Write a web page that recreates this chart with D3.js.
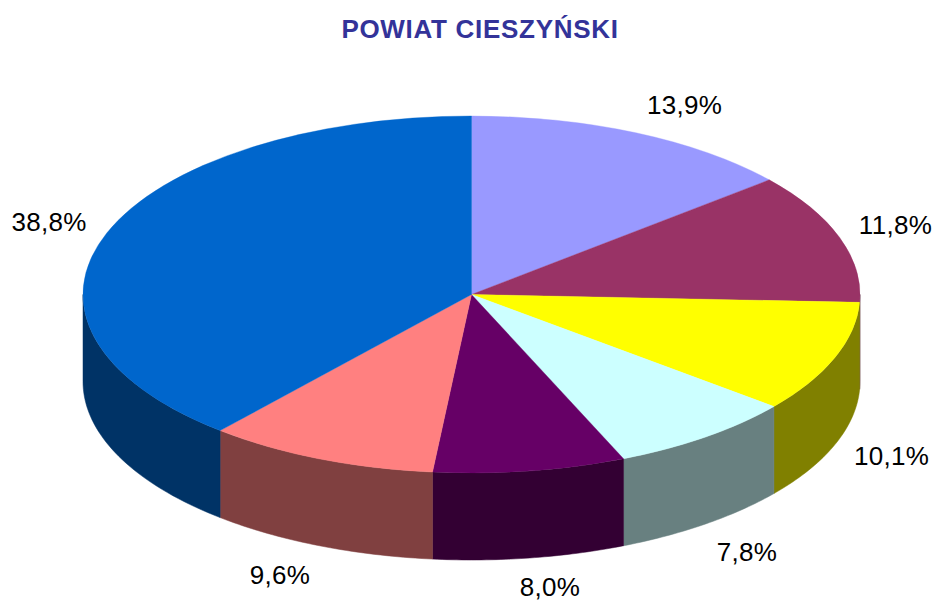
<!DOCTYPE html>
<html>
<head>
<meta charset="utf-8">
<script src="https://cdn.jsdelivr.net/npm/d3@7"></script>
<style>
html, body { margin: 0; padding: 0; background: #fff; }
svg { display: block; }
text { font-family: "Liberation Sans", Arial, sans-serif; }
</style>
</head>
<body>
<div id="graphic"></div>
<script>
var title = "POWIAT CIESZYŃSKI";
var values = [13.9, 11.8, 10.1, 7.8, 8.0, 9.6, 38.8];
var labels = ["13,9%", "11,8%", "10,1%", "7,8%", "8,0%", "9,6%", "38,8%"];
var topColors = ["#9999ff", "#993366", "#ffff00", "#ccffff", "#660066", "#ff8080", "#0066cc"];
var sideColors = ["#4d4d80", "#4d1a33", "#808000", "#688080", "#330033", "#804040", "#003366"];
var labelX = [684.5, 895.5, 891.5, 747, 550, 280, 49];
var labelY = [114, 234, 465, 561, 596, 584, 231];

var width = 935, height = 601;
var cx = 471.5, cy = 294.5, rx = 388.5, ry = 178.5, depth = 87;

var svg = d3.select("#graphic").append("svg")
        .attr("width", width)
        .attr("height", height);

svg.append("text")
        .attr("x", 480)
        .attr("y", 38)
        .attr("text-anchor", "middle")
        .style("font-size", "26px")
        .style("font-weight", "bold")
        .style("letter-spacing", "0.7px")
        .style("fill", "#333399")
        .text(title);

var pie = d3.pie().sort(null).value(function(d) { return d; });
var slices = pie(values);

// point on the rim, angle 0 at twelve o'clock, clockwise
function rimX(a) { return cx + rx * Math.sin(a); }
function rimY(a) { return cy - ry * Math.cos(a); }

// side wall of one slice: only the part of the rim facing the viewer
var sides = svg.append("g");
slices.forEach(function(s, i) {
    var a0 = Math.max(s.startAngle, Math.PI / 2);
    var a1 = Math.min(s.endAngle, Math.PI * 1.5);
    if (a1 <= a0) return;
    var steps = d3.range(0, 41).map(function(k) { return a0 + (a1 - a0) * k / 40; });
    var outline = steps.map(function(a) { return [rimX(a), rimY(a)]; })
        .concat(steps.slice().reverse().map(function(a) { return [rimX(a), rimY(a) + depth]; }));
    sides.append("path")
        .attr("d", d3.line()(outline) + "Z")
        .style("fill", sideColors[i])
        .style("stroke", sideColors[i])
        .style("stroke-width", 0.5);
});

// top face: flat circle squashed to an ellipse
var arc = d3.arc().innerRadius(0).outerRadius(rx);
var topFace = svg.append("g")
        .attr("transform", "translate(" + cx + "," + cy + ") scale(1," + (ry / rx) + ")");
topFace.selectAll("path")
        .data(slices)
        .enter().append("path")
        .attr("d", arc)
        .style("fill", function(d, i) { return topColors[i]; })
        .style("stroke", function(d, i) { return topColors[i]; })
        .style("stroke-width", 0.5);

svg.selectAll("text.label")
        .data(labels)
        .enter().append("text")
        .attr("class", "label")
        .attr("x", function(d, i) { return labelX[i]; })
        .attr("y", function(d, i) { return labelY[i]; })
        .attr("text-anchor", "middle")
        .style("font-size", "26px")
        .style("letter-spacing", "0.3px")
        .style("fill", "#000")
        .text(function(d) { return d; });
</script>
</body>
</html>
